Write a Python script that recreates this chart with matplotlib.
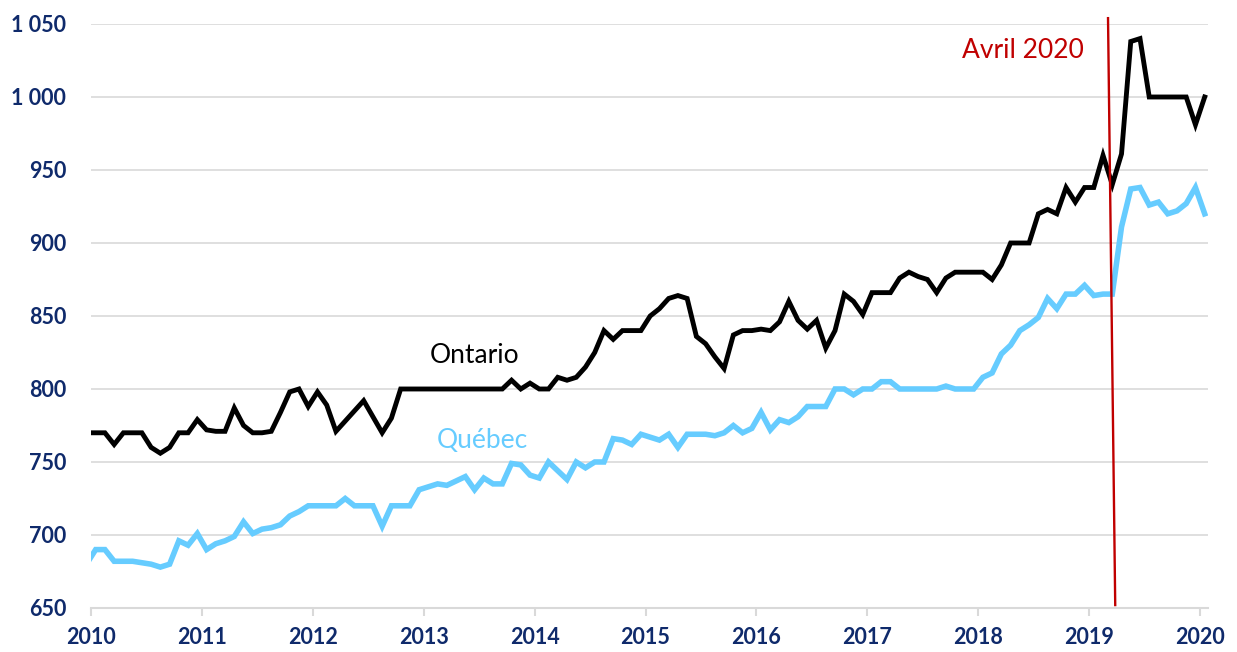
import numpy as np
import matplotlib
matplotlib.use("Agg")
import matplotlib.pyplot as plt

# monthly values, first point is Dec of the year before the axis start
ontario = [770,
           770, 770, 762, 770, 770, 770, 760, 756, 760, 770, 770, 779,
           772, 771, 771, 787, 775, 770, 770, 771, 784, 798, 800, 788,
           798, 789, 771, 778, 785, 792, 781, 770, 780, 800, 800, 800,
           800, 800, 800, 800, 800, 800, 800, 800, 800, 806, 800, 804,
           800, 800, 808, 806, 808, 815, 825, 840, 834, 840, 840, 840,
           850, 855, 862, 864, 862, 836, 831, 822, 814, 837, 840, 840,
           841, 840, 846, 860, 847, 841, 847, 828, 840, 865, 860, 851,
           866, 866, 866, 876, 880, 877, 875, 866, 876, 880, 880, 880,
           880, 875, 885, 900, 900, 900, 920, 923, 920, 938, 928, 938,
           938, 960, 940, 961, 1038, 1040, 1000, 1000, 1000, 1000, 1000, 981,
           1000]
quebec = [680,
          690, 690, 682, 682, 682, 681, 680, 678, 680, 696, 693, 701,
          690, 694, 696, 699, 709, 701, 704, 705, 707, 713, 716, 720,
          720, 720, 720, 725, 720, 720, 720, 706, 720, 720, 720, 731,
          733, 735, 734, 737, 740, 731, 739, 735, 735, 749, 748, 741,
          739, 750, 744, 738, 750, 746, 750, 750, 766, 765, 762, 769,
          767, 765, 769, 760, 769, 769, 769, 768, 770, 775, 770, 773,
          784, 772, 779, 777, 781, 788, 788, 788, 800, 800, 796, 800,
          800, 805, 805, 800, 800, 800, 800, 800, 802, 800, 800, 800,
          808, 811, 824, 830, 840, 844, 849, 862, 855, 865, 865, 871,
          864, 865, 865, 911, 937, 938, 926, 928, 920, 922, 927, 938,
          920]

year_ticks = list(range(2010, 2021))
y_ticks = [650, 700, 750, 800, 850, 900, 950, 1000, 1050]
y_labels = ["650", "700", "750", "800", "850", "900", "950", "1 000", "1 050"]

# red "Avril 2020" marker (top and bottom ends)
avril_x = [2019.17, 2019.235]
avril_y = [1054, 652]

months = 2010 + (np.arange(len(ontario)) - 0.5) / 12

navy = "#0F2A6B"
plt.rcParams["font.family"] = ["Lato", "DejaVu Sans"]

fig = plt.figure(figsize=(12.37, 6.52), dpi=100)
ax = fig.add_axes([0.0736, 0.0675, 0.9030, 0.8957])

for v in y_ticks[1:]:
    ax.axhline(v, color="#D9D9D9", lw=1.2, zorder=0)

ax.plot(months, quebec, color="#66CCFF", lw=4.0, solid_joinstyle="miter", zorder=2)
ax.plot(months, ontario, color="black", lw=3.5, solid_joinstyle="miter", zorder=3)
ax.plot(avril_x, avril_y, color="#C00000", lw=1.7, zorder=4, clip_on=False)

ax.text(2013.46, 823, "Ontario", color="black", fontsize=19, ha="center", va="center")
ax.text(2013.53, 765, "Québec", color="#66CCFF", fontsize=19, ha="center", va="center")
ax.text(2018.40, 1032, "Avril 2020", color="#C00000", fontsize=19, ha="center", va="center")

ax.set_xlim(2010, 2020.072)
ax.set_ylim(650, 1050)
ax.set_xticks(year_ticks)
ax.set_xticklabels([str(y) for y in year_ticks])
ax.set_yticks(y_ticks)
ax.set_yticklabels(y_labels)

for s in ["top", "right", "left"]:
    ax.spines[s].set_visible(False)
ax.spines["bottom"].set_color("#D9D9D9")
ax.spines["bottom"].set_linewidth(1.5)

ax.tick_params(axis="x", colors="#D9D9D9", length=6, width=1.5, pad=8)
ax.tick_params(axis="y", length=0, pad=18)
for lab in ax.get_xticklabels() + ax.get_yticklabels():
    lab.set_color(navy)
    lab.set_fontweight("bold")
    lab.set_fontsize(15.5)

fig.savefig("out.png", dpi=100)
